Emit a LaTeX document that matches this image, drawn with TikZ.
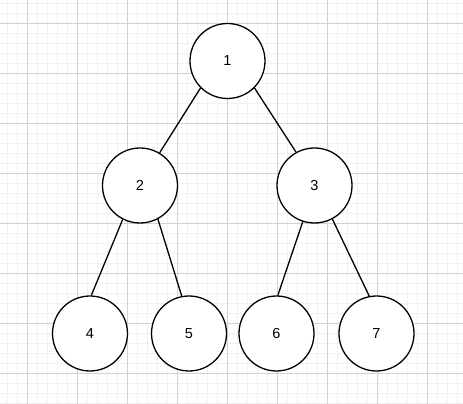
\documentclass[tikz,border=0pt]{standalone}
\usepackage{fontspec}
\setmainfont{Liberation Sans}
\usetikzlibrary{positioning}
\definecolor{minorgray}{RGB}{241,241,241}
\definecolor{majorgray}{RGB}{210,210,210}

\begin{document}
\begin{tikzpicture}[x=1pt,y=1pt,on grid,
	vertex/.style={circle,draw,line width=1.3pt,minimum size=75pt,inner sep=0pt,fill=white,font=\fontsize{14.5}{16}\selectfont},
	link/.style={line width=1.3pt}]
\useasboundingbox (0,0) rectangle (463,404);
\begin{scope}
\clip (0,0) rectangle (463,404);
\draw[minorgray,line width=0.7pt,shift={(7.3,0.7)}]	(-20,-20) grid[step=10] (480,420);
\draw[majorgray,line width=0.8pt,shift={(27.3,30.7)}]	(-50,-50) grid[step=50] (480,420);
\end{scope}
\node[vertex]							(n1)	at (227.5,343)						{1};
\node[vertex]							(n2)	[below left=124.5pt and 87.5pt of n1]		{2};
\node[vertex]							(n3)	[below right=124.5pt and 87pt of n1]		{3};
\node[vertex]							(n4)	[below left=148pt and 50pt of n2]		{4};
\node[vertex]							(n5)	[below right=148pt and 49pt of n2]		{5};
\node[vertex]							(n6)	[below left=148pt and 38pt of n3]		{6};
\node[vertex]							(n7)	[below right=148pt and 62pt of n3]		{7};
\path[link]
(n1.-135)	edge					(n2.59.5)
(n1.-45)	edge					(n3.119.5)
(n2.-117)	edge					(n4.88)
(n2.-62)	edge					(n5.101)
(n3.-108)	edge					(n6.88.5)
(n3.-62.7)	edge					(n7.101.7)
;
\end{tikzpicture}
\end{document}
